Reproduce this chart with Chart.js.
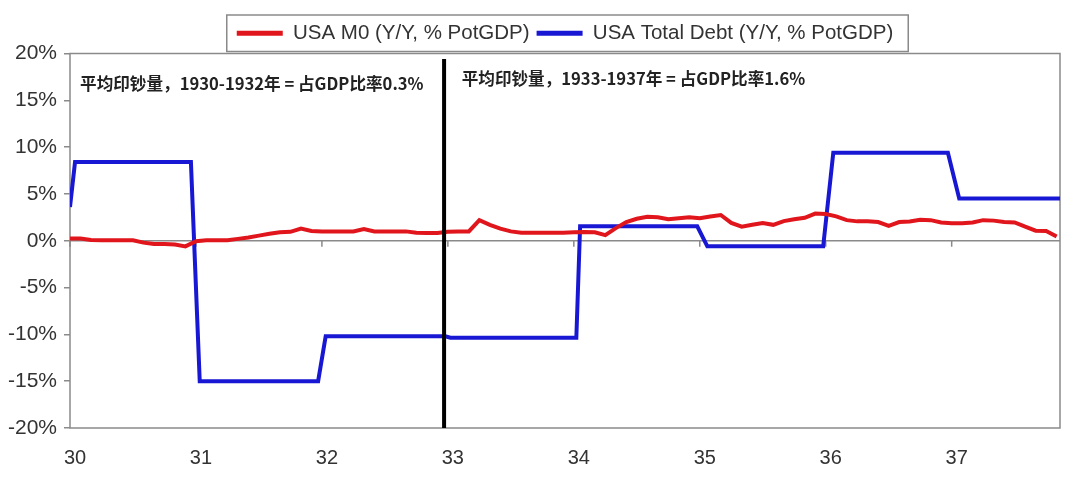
<!DOCTYPE html>
<html>
<head>
<meta charset="utf-8">
<script src="https://cdn.jsdelivr.net/npm/chart.js@4.4.1/dist/chart.umd.min.js"></script>
<style>
  html, body { margin: 0; padding: 0; background: #fff; }
  #wrap { width: 1080px; height: 499px; }
</style>
</head>
<body>
<div id="wrap"><canvas id="chart" width="1080" height="499"></canvas></div>
<script>
// M0 is monthly, first sample is Jan 1930 ("30")
const startYear = 30;
const seriesNames = ['USA M0 (Y/Y, % PotGDP)', 'USA Total Debt (Y/Y, % PotGDP)'];

const m0Values = [
    0.25, 0.25, 0.08, 0.05, 0.05, 0.05, 0.05, -0.2, -0.35, -0.35, -0.4, -0.6,
    -0.05, 0.05, 0.05, 0.05, 0.2, 0.35, 0.55, 0.75, 0.9, 0.95, 1.3, 1.05,
    1.0, 1.0, 1.0, 1.0, 1.25, 1.0, 1.0, 1.0, 1.0, 0.85, 0.82, 0.82,
    0.95, 1.0, 1.0, 2.2, 1.7, 1.3, 1.0, 0.85, 0.85, 0.85, 0.85, 0.85,
    0.9, 0.93, 0.9, 0.6, 1.35, 2.0, 2.35, 2.55, 2.5, 2.3, 2.4, 2.5,
    2.4, 2.6, 2.75, 1.9, 1.5, 1.7, 1.9, 1.7, 2.1, 2.3, 2.45, 2.9,
    2.85, 2.6, 2.2, 2.07, 2.07, 2.0, 1.6, 2.0, 2.05, 2.25, 2.2, 1.95,
    1.86, 1.86, 1.95, 2.2, 2.15, 2.0, 1.96, 1.5, 1.07, 1.05, 0.45
];

// total debt is a yearly step series; the corners
const debtYears = [
    30.0, 30.04, 30.96, 31.03, 31.97, 32.03, 32.98, 33.02,
    34.02, 34.05, 34.98, 35.06, 35.98, 36.06, 36.97, 37.06, 37.86
];
const debtValues = [
    3.6, 8.4, 8.4, -15, -15, -10.2, -10.2, -10.35,
    -10.35, 1.55, 1.55, -0.6, -0.6, 9.4, 9.4, 4.5, 4.5
];

// black separator between the two periods
const dividerYear = [32.97, 32.97];
const dividerValues = [-20, 19.4];

const noteTexts = [
    '平均印钞量，1930-1932年 = 占GDP比率0.3%',
    '平均印钞量，1933-1937年 = 占GDP比率1.6%'
];
const notePlaces = [{ x: 30.08, y: 16.8 }, { x: 33.11, y: 17.3 }];

// plot frame, zero line with the year ticks hanging from it
const framePlugin = {
    id: 'frame',
    beforeDatasetsDraw(chart) {
        const { ctx, chartArea: a, scales: { x, y } } = chart;
        ctx.save();
        ctx.strokeStyle = '#8a8a8a';
        ctx.lineWidth = 1.5;
        ctx.strokeRect(a.left, a.top, a.width, a.height);
        const zy = y.getPixelForValue(0);
        ctx.beginPath();
        ctx.moveTo(a.left, zy);
        ctx.lineTo(a.right, zy);
        x.ticks.forEach(t => {
            const px = x.getPixelForValue(t.value);
            ctx.moveTo(px, zy);
            ctx.lineTo(px, zy + 6);
        });
        ctx.stroke();
        ctx.restore();
    }
};

const notesPlugin = {
    id: 'notes',
    afterDraw(chart) {
        const { ctx, scales: { x, y } } = chart;
        ctx.save();
        ctx.font = 'bold 16.6px "Noto Sans CJK SC"';
        ctx.fillStyle = '#222';
        ctx.textBaseline = 'middle';
        noteTexts.forEach((t, i) => {
            ctx.fillText(t, x.getPixelForValue(notePlaces[i].x), y.getPixelForValue(notePlaces[i].y));
        });
        ctx.restore();
    }
};

const legendBoxPlugin = {
    id: 'legendBox',
    afterDraw(chart) {
        const boxes = chart.legend && chart.legend.legendHitBoxes;
        if (!boxes || !boxes.length) return;
        const left = Math.min(...boxes.map(b => b.left)) - 10;
        const right = Math.max(...boxes.map(b => b.left + b.width)) + 15;
        const top = Math.min(...boxes.map(b => b.top)) - 8;
        const bottom = Math.max(...boxes.map(b => b.top + b.height)) + 8;
        const ctx = chart.ctx;
        ctx.save();
        ctx.strokeStyle = '#8a8a8a';
        ctx.lineWidth = 1.5;
        ctx.strokeRect(left, top, right - left, bottom - top);
        ctx.restore();
    }
};

new Chart(document.getElementById('chart'), {
    type: 'line',
    data: {
        datasets: [
            {
                label: seriesNames[0],
                data: m0Values.map((v, i) => ({ x: startYear + i / 12, y: v })),
                borderColor: '#e0161c',
                backgroundColor: '#e0161c',
                borderWidth: 4,
                pointRadius: 0,
                tension: 0,
                order: 1
            },
            {
                label: seriesNames[1],
                data: debtValues.map((v, i) => ({ x: debtYears[i], y: v })),
                borderColor: '#1818d4',
                backgroundColor: '#1818d4',
                borderWidth: 4,
                pointRadius: 0,
                tension: 0,
                order: 2
            },
            {
                label: 'divider',
                data: dividerValues.map((v, i) => ({ x: dividerYear[i], y: v })),
                borderColor: '#000',
                borderWidth: 4,
                pointRadius: 0,
                order: 0
            }
        ]
    },
    options: {
        responsive: false,
        animation: false,
        devicePixelRatio: 1,
        layout: { padding: { top: 16, right: 20, left: 0, bottom: 0 } },
        plugins: {
            tooltip: { enabled: false },
            legend: {
                position: 'top',
                fullSize: false,
                labels: {
                    boxWidth: 46,
                    boxHeight: 5,
                    padding: 7,
                    color: '#333',
                    font: { family: '"Liberation Sans", Arial, sans-serif', size: 20.5 },
                    filter: item => item.datasetIndex < 2,
                    generateLabels: chart => Chart.defaults.plugins.legend.labels.generateLabels(chart)
                        .map(item => Object.assign(item, { lineWidth: 0 }))
                }
            }
        },
        scales: {
            x: {
                type: 'linear',
                min: 30,
                max: 37.86,
                grid: { display: false, drawTicks: false },
                border: { display: false },
                ticks: {
                    stepSize: 1,
                    includeBounds: false,
                    labelOffset: 5,
                    padding: 18,
                    color: '#333',
                    font: { family: '"Liberation Sans", Arial, sans-serif', size: 20 },
                    callback: v => v
                },
                afterFit: s => { s.height = 71; }
            },
            y: {
                min: -20,
                max: 20,
                grid: { drawOnChartArea: false, tickLength: 6, color: '#8a8a8a', lineWidth: 1.5 },
                border: { display: false },
                ticks: {
                    stepSize: 5,
                    padding: 7,
                    color: '#333',
                    font: { family: '"Liberation Sans", Arial, sans-serif', size: 21 },
                    callback: v => v + '%'
                },
                afterFit: s => { s.width = 70; }
            }
        }
    },
    plugins: [framePlugin, notesPlugin, legendBoxPlugin]
});
</script>
</body>
</html>
